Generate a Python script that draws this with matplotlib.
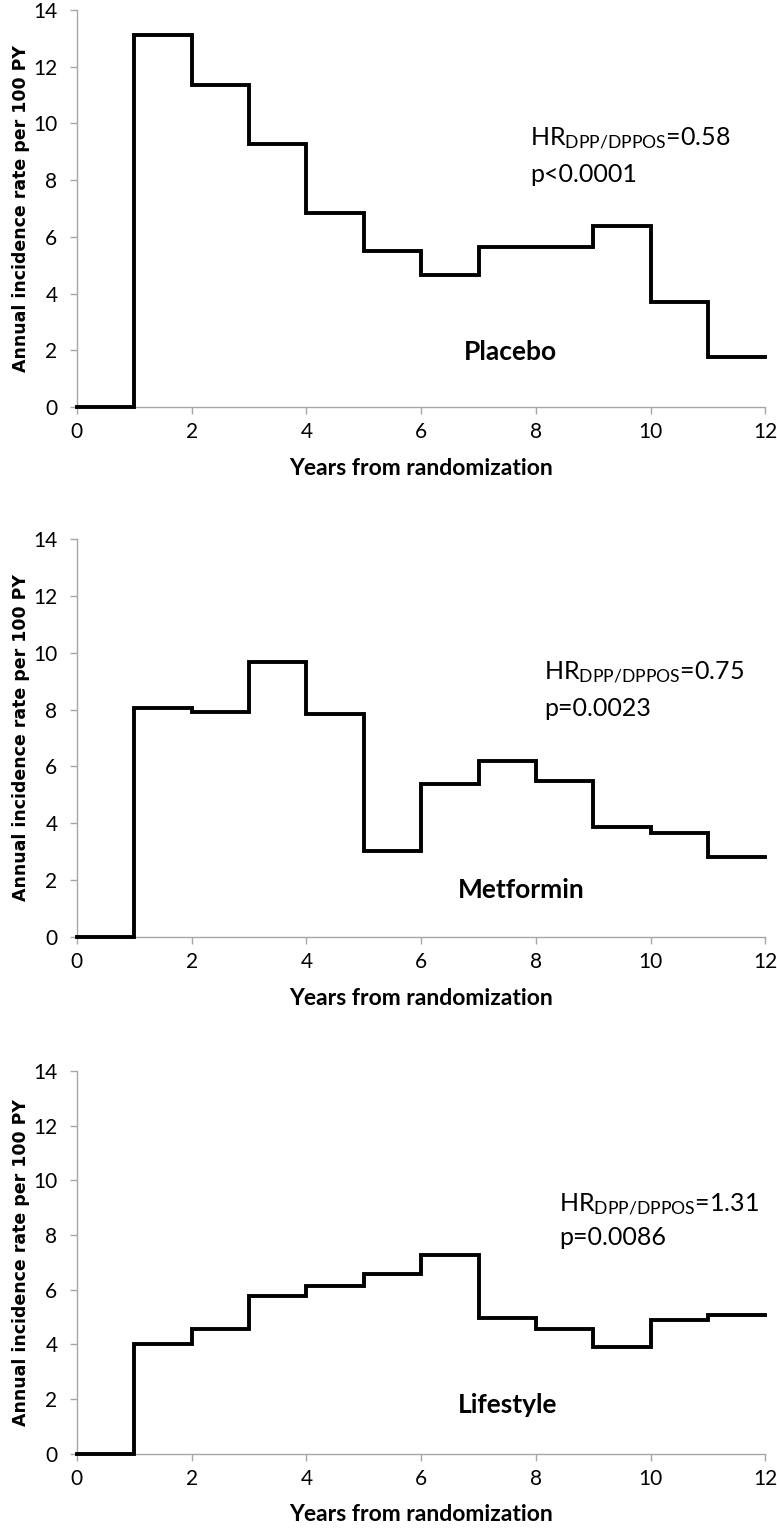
import numpy as np
import matplotlib
matplotlib.use("Agg")
import matplotlib.pyplot as plt

YEARS = np.arange(0, 13)

PLACEBO = [0, 13.12, 11.36, 9.29, 6.83, 5.51, 4.67, 5.66, 5.66, 6.38, 3.69, 1.76]
METFORMIN = [0, 8.06, 7.91, 9.66, 7.83, 3.04, 5.40, 6.19, 5.49, 3.86, 3.66, 2.80]
LIFESTYLE = [0, 4.01, 4.55, 5.77, 6.15, 6.58, 7.28, 4.95, 4.57, 3.92, 4.91, 5.07]

GROUPS = ["Placebo", "Metformin", "Lifestyle"]
HR_VALUES = ["0.58", "0.75", "1.31"]
P_VALUES = ["p<0.0001", "p=0.0023", "p=0.0086"]

# text anchors in data coords (x, y)
HR_POS = [(7.9, 9.45), (8.15, 9.3), (8.4, 9.1)]
P_POS = [(7.9, 8.2), (8.15, 8.05), (8.4, 7.9)]
NAME_POS = [(7.55, 1.95), (7.75, 1.65), (7.5, 1.8)]

# axes rectangles [left, bottom, width, height] in figure fractions
AX_RECTS = [
    [0.099, 0.7343, 0.886, 0.2592],
    [0.099, 0.3884, 0.886, 0.2597],
    [0.099, 0.0510, 0.886, 0.2500],
]

SPINE_GRAY = "#a6a6a6"
TEXT_FONT = "Lato"


def draw_panel(ax, values, name, hr, pval, hr_pos, p_pos, name_pos):
    yy = list(values) + [values[-1]]
    ax.step(YEARS, yy, where="post", color="black", linewidth=2.8,
            solid_joinstyle="miter", clip_on=False, zorder=3)

    ax.set_xlim(0, 12)
    ax.set_ylim(0, 14)
    ax.set_xticks(range(0, 13, 2))
    ax.set_yticks(range(0, 15, 2))

    for side in ["top", "right"]:
        ax.spines[side].set_visible(False)
    for side in ["left", "bottom"]:
        ax.spines[side].set_color(SPINE_GRAY)
        ax.spines[side].set_linewidth(1.0)

    ax.tick_params(axis="both", colors=SPINE_GRAY, length=5, width=1.0,
                   labelcolor="black", labelsize=15)
    ax.tick_params(axis="x", pad=6)
    ax.tick_params(axis="y", pad=9)
    for lab in ax.get_xticklabels() + ax.get_yticklabels():
        lab.set_family(TEXT_FONT)

    ax.set_xlabel("Years from randomization", family=TEXT_FONT,
                  fontweight="bold", fontsize=16.5, labelpad=11)
    ax.set_ylabel("Annual incidence rate per 100 PY", family="DejaVu Sans",
                  fontweight="bold", fontsize=12.5, labelpad=2)

    ax.text(hr_pos[0], hr_pos[1],
            r"$\mathregular{HR_{DPP/DPPOS}}$=" + hr,
            family=TEXT_FONT, fontsize=18, ha="left", va="center")
    ax.text(p_pos[0], p_pos[1], pval, family=TEXT_FONT, fontsize=18,
            ha="left", va="center")
    ax.text(name_pos[0], name_pos[1], name, family=TEXT_FONT,
            fontweight="bold", fontsize=19, ha="center", va="center")


def main():
    fig = plt.figure(figsize=(7.77, 15.32), dpi=100)
    series = [PLACEBO, METFORMIN, LIFESTYLE]
    for i, rect in enumerate(AX_RECTS):
        ax = fig.add_axes(rect)
        draw_panel(ax, series[i], GROUPS[i], HR_VALUES[i], P_VALUES[i],
                   HR_POS[i], P_POS[i], NAME_POS[i])
    fig.savefig("out.png", dpi=100)


if __name__ == "__main__":
    main()
